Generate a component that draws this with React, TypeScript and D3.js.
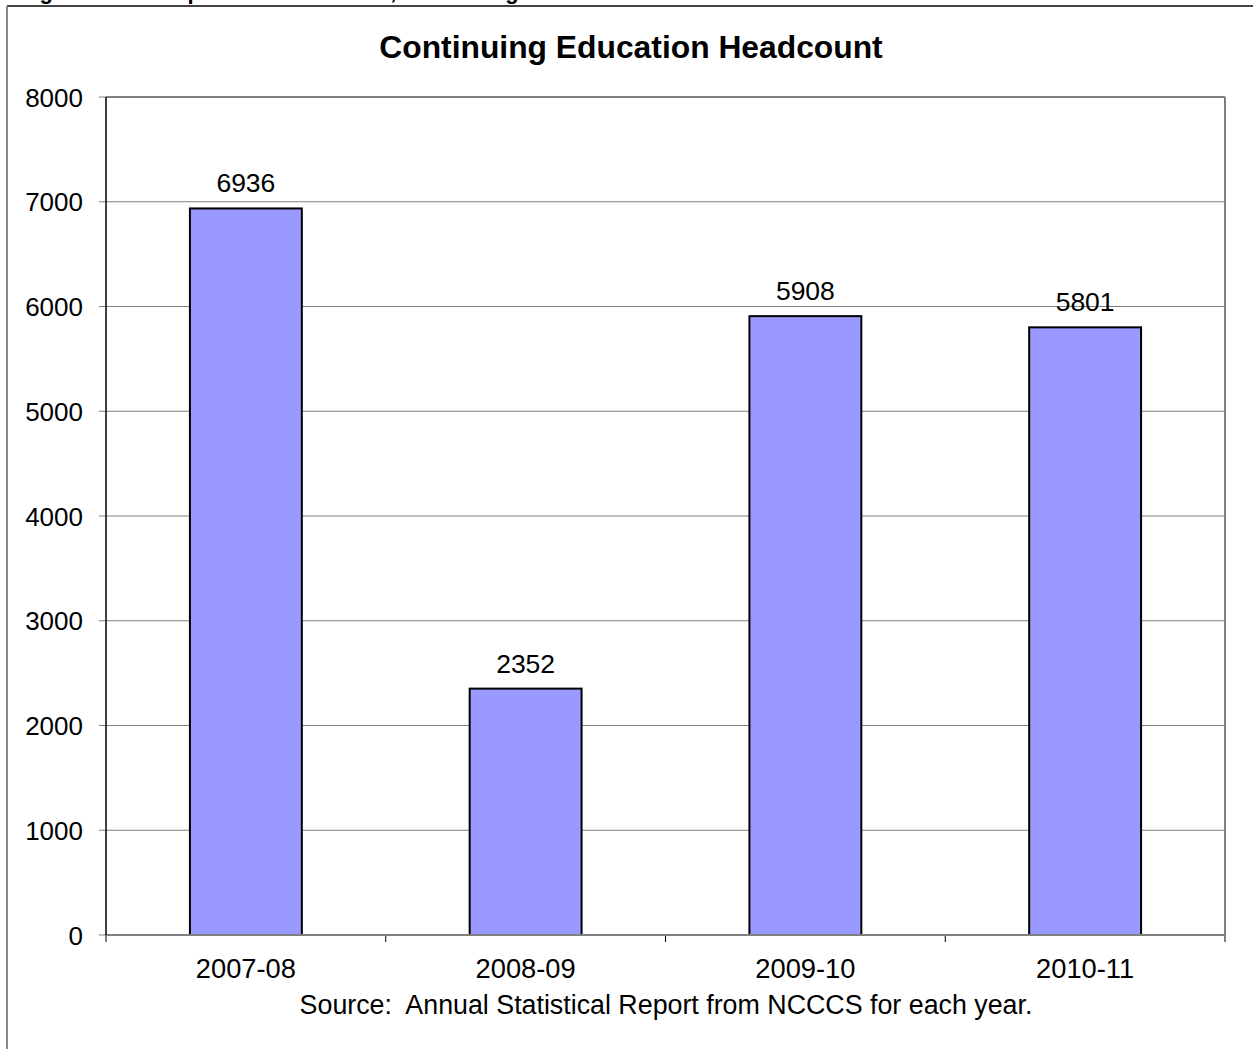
import React from "react";
import * as d3 from "d3";

const categories = ["2007-08", "2008-09", "2009-10", "2010-11"];
const values = [6936, 2352, 5908, 5801];
const yTicks = [0, 1000, 2000, 3000, 4000, 5000, 6000, 7000, 8000];
const title = "Continuing Education Headcount";
const source = "Source:  Annual Statistical Report from NCCCS for each year.";
const clippedHeading = "Figure 10: Unduplicated Headcount, Continuing Education";

export default function App() {
  const W = 1253, H = 1049;
  const left = 106, right = 1225, top = 97, bottom = 935;
  const x = d3.scaleBand().domain(categories).range([left, right]).paddingInner(0.6).paddingOuter(0.3);
  const band = d3.scaleBand().domain(categories).range([left, right]);
  const y = d3.scaleLinear().domain([0, 8000]).range([bottom, top]);
  const font = "Liberation Sans, Arial, sans-serif";
  return (
    <svg width={W} height={H} style={{ position: "absolute", left: 0, top: 0 }} fontFamily={font}>
      <rect x={0} y={0} width={W} height={H} fill="#fff" />
      <text x={20} y={-1} fontSize={22} fontWeight="bold" fill="#000">{clippedHeading}</text>
      <line x1={7} x2={W} y1={6} y2={6} stroke="#444" strokeWidth={2} />
      <line x1={7} x2={7} y1={6} y2={H} stroke="#888" strokeWidth={2} />
      <text x={631} y={58} textAnchor="middle" fontSize={31.8} fontWeight="bold">{title}</text>
      {yTicks.map((t) => (
        <g key={t}>
          {t > 0 && <line x1={left} x2={right} y1={y(t)} y2={y(t)} stroke="#808080" strokeWidth={1} />}
          <line x1={99} x2={left} y1={y(t)} y2={y(t)} stroke="#808080" strokeWidth={1} />
          <text x={83} y={y(t) + 9.5} textAnchor="end" fontSize={26}>{t}</text>
        </g>
      ))}
      <line x1={right} x2={right} y1={top} y2={bottom} stroke="#808080" strokeWidth={2} />
      <line x1={left} x2={right} y1={top} y2={top} stroke="#808080" strokeWidth={2} />
      {categories.map((c, i) => (
        <g key={c}>
          <rect x={x(c)!} y={y(values[i])} width={x.bandwidth()} height={bottom - y(values[i])} fill="#9999FF" stroke="#000" strokeWidth={2} />
          <text x={x(c)! + x.bandwidth() / 2} y={y(values[i]) - 16} textAnchor="middle" fontSize={26.5}>{values[i]}</text>
          <text x={band(c)! + band.bandwidth() / 2} y={978} textAnchor="middle" fontSize={27.3}>{c}</text>
        </g>
      ))}
      {[...categories.map((c) => band(c)!), right].map((bx, i) => (
        <line key={i} x1={bx} x2={bx} y1={bottom} y2={942} stroke="#000" strokeWidth={1} />
      ))}
      <line x1={left} x2={right} y1={bottom} y2={bottom} stroke="#808080" strokeWidth={2} />
      <line x1={left} x2={left} y1={top} y2={bottom} stroke="#000" strokeWidth={1.5} />
      <text x={666} y={1014} textAnchor="middle" fontSize={26.8} style={{ whiteSpace: "pre" }}>{source}</text>
    </svg>
  );
}
